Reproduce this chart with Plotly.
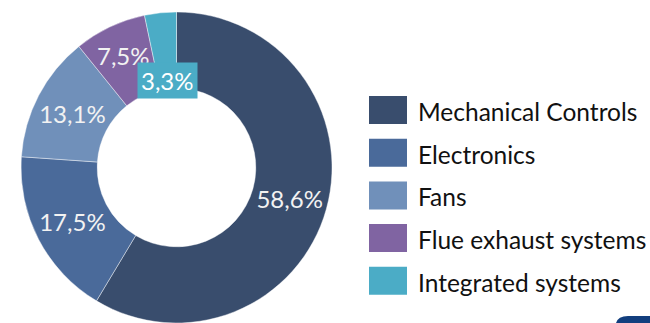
import math
import plotly.graph_objects as go

# ---- data ----
categories = ["Mechanical Controls", "Electronics", "Fans", "Flue exhaust systems", "Integrated systems"]
values = [58.6, 17.5, 13.1, 7.5, 3.3]
labels_text = ["58,6%", "17,5%", "13,1%", "7,5%", "3,3%"]
colors = ["#394D6D", "#4A6A9A", "#7090BA", "#8064A2", "#4BACC6"]

W, H = 650, 323
FONT = "Lato, 'Open Sans', sans-serif"

# pie geometry (pixels)
cx, cy = 176.5, 167.5
R = 155.5
dom_x = [(cx - R) / W, (cx + R) / W]
dom_y = [0.0, 1 - (cy - R) / H]

# the two small slices get their labels as annotations (so they are not shrunk)
slice_text = labels_text[:-2] + ["", ""]

fig = go.Figure()
fig.add_trace(go.Pie(
    labels=categories,
    values=values,
    text=slice_text,
    textinfo="text",
    textposition="inside",
    insidetextorientation="horizontal",
    textfont=dict(family=FONT, size=24, color="#F2F2F2"),
    marker=dict(colors=colors, line=dict(color="rgba(255,255,255,0.6)", width=0.7)),
    hole=0.51,
    sort=False,
    direction="clockwise",
    rotation=0,
    domain=dict(x=dom_x, y=dom_y),
    showlegend=False,
    hoverinfo="label+text",
))

total = sum(values)


def mid_pos(idx, rf):
    before = sum(values[:idx])
    theta = math.radians(360 * (before + values[idx] / 2) / total)
    px = cx + R * rf * math.sin(theta)
    py = cy - R * rf * math.cos(theta)
    return px / W, 1 - py / H


# label for the 7.5% slice
x4, y4 = mid_pos(3, 0.80)
fig.add_annotation(
    x=x4, y=y4, xref="paper", yref="paper",
    text=labels_text[3], showarrow=False,
    font=dict(family=FONT, size=24, color="#F2F2F2"),
    xanchor="center", yanchor="middle",
)

# boxed label for the smallest slice
x5, y5 = mid_pos(4, 0.56)
fig.add_annotation(
    x=x5, y=y5, xref="paper", yref="paper",
    text=labels_text[4], showarrow=False,
    font=dict(family=FONT, size=24, color="#FFFFFF"),
    bgcolor=colors[4], borderpad=3,
    xanchor="center", yanchor="middle",
)

# custom legend with large swatches
leg_x0, leg_x1 = 369, 407
leg_y0, leg_step = 110, 42.7
sw_h = 28
for i, (cat, col) in enumerate(zip(categories, colors)):
    yc = leg_y0 + i * leg_step
    fig.add_shape(type="rect", xref="paper", yref="paper",
                  x0=leg_x0 / W, x1=leg_x1 / W,
                  y0=1 - (yc + sw_h / 2) / H, y1=1 - (yc - sw_h / 2) / H,
                  fillcolor=col, line=dict(width=0))
    fig.add_annotation(x=416 / W, y=1 - (yc + 1.5) / H, xref="paper", yref="paper",
                       text=cat, showarrow=False, xanchor="left", yanchor="middle",
                       font=dict(family=FONT, size=24.5, color="#111111"))

# decorative corner element
fig.add_shape(type="path", xref="paper", yref="paper",
              path=f"M {616/W},{1-323/H} Q {618/W},{1-316/H} {628/W},{1-316/H} L {650/W},{1-316/H} L {650/W},{0} Z",
              fillcolor="#123E7E", line=dict(width=0))

fig.update_layout(
    width=W, height=H,
    margin=dict(l=0, r=0, t=0, b=0),
    paper_bgcolor="white", plot_bgcolor="white",
    font=dict(family=FONT),
)

fig.write_html("out.html")
